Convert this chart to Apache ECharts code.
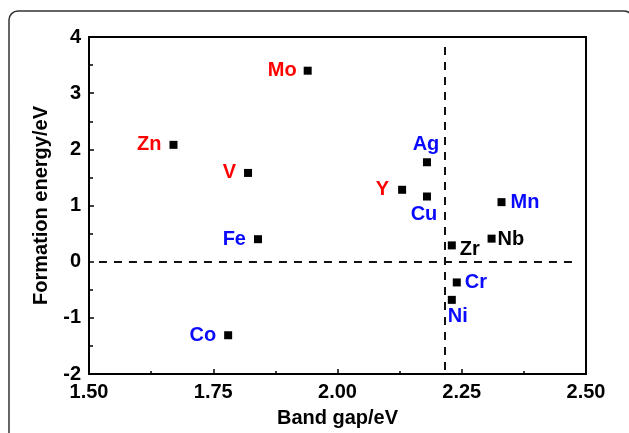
<!DOCTYPE html>
<html>
<head>
<meta charset="utf-8">
<script src="https://cdn.jsdelivr.net/npm/echarts@6/dist/echarts.min.js"></script>
<style>
html,body{margin:0;padding:0;background:#fff;}
#c{width:629px;height:433px;}
</style>
</head>
<body>
<div id="c"></div>
<script>
var names = ['Mo','Zn','V','Fe','Co','Y','Ag','Cu','Mn','Nb','Zr','Cr','Ni'];
var bandGap = [1.94,1.67,1.82,1.84,1.78,2.13,2.18,2.18,2.33,2.31,2.23,2.24,2.23];
var formation = [3.40,2.08,1.58,0.40,-1.31,1.28,1.77,1.16,1.06,0.41,0.29,-0.37,-0.68];
var colorGroup = ['red','red','red','blue','blue','red','blue','blue','blue','black','black','blue','blue'];
var xTicks = ['1.50','1.75','2.00','2.25','2.50'];
var yTicks = ['-2','-1','0','1','2','3','4'];
var gapThreshold = 2.216;

var colorMap = {red:'#ff0000', blue:'#0a0aff', black:'#000000'};
var labelPlace = {
  Mo:{position:'left',distance:7},
  Zn:{position:'left',distance:8},
  V:{position:'left',distance:8},
  Fe:{position:'left',distance:8},
  Co:{position:'left',distance:8},
  Y:{position:'left',distance:9},
  Ag:{position:'top',distance:4,offset:[-1,0]},
  Cu:{position:'bottom',distance:4,offset:[-3,0]},
  Mn:{position:'right',distance:5},
  Nb:{position:'right',distance:2,offset:[0,1]},
  Zr:{position:'right',distance:4,offset:[0,4]},
  Cr:{position:'right',distance:4},
  Ni:{position:'bottom',distance:3,offset:[6,0]}
};
var font = 'Liberation Sans, Arial, sans-serif';

var data = names.map(function(n,i){
  var lp = labelPlace[n];
  return {
    value:[bandGap[i], formation[i]],
    name:n,
    label:{
      show:true,
      formatter:n,
      position:lp.position,
      distance:lp.distance,
      offset:lp.offset || [0,0],
      color:colorMap[colorGroup[i]],
      opacity:1,
      fontSize:20,
      fontWeight:'bold',
      fontFamily:font
    }
  };
});

var chart = echarts.init(document.getElementById('c'), null, {renderer:'canvas'});
chart.setOption({
  animation:false,
  backgroundColor:'#fff',
  graphic:[{
    type:'rect',
    shape:{x:9,y:11,width:624,height:460,r:9},
    style:{fill:'none',stroke:'#333',lineWidth:1.5},
    silent:true,
    z:-1
  }],
  grid:{left:89,right:43,top:37,bottom:56,show:true,borderColor:'#000',borderWidth:2,backgroundColor:'transparent'},
  xAxis:{
    type:'value',min:1.5,max:2.5,interval:0.25,
    name:'Band gap/eV',nameLocation:'middle',nameGap:34,
    nameTextStyle:{fontSize:20,fontWeight:'bold',color:'#000',fontFamily:font},
    axisLine:{show:true,onZero:false,lineStyle:{color:'#000',width:2}},
    axisTick:{show:true,inside:true,length:5,lineStyle:{color:'#000',width:1.5}},
    minorTick:{show:true,splitNumber:2,length:3,lineStyle:{color:'#000',width:1.5}},
    splitLine:{show:false},
    axisLabel:{margin:8,fontSize:20,fontWeight:'bold',color:'#000',fontFamily:font,
      formatter:function(v){var i=Math.round((v-1.5)/0.25);return xTicks[i]!==undefined?xTicks[i]:'';}}
  },
  yAxis:{
    type:'value',min:-2,max:4,interval:1,
    name:'Formation energy/eV',nameLocation:'middle',nameGap:38,
    nameTextStyle:{fontSize:20,fontWeight:'bold',color:'#000',fontFamily:font},
    axisLine:{show:true,onZero:false,lineStyle:{color:'#000',width:2}},
    axisTick:{show:true,inside:true,length:5,lineStyle:{color:'#000',width:1.5}},
    minorTick:{show:true,splitNumber:2,length:4,lineStyle:{color:'#000',width:1.5}},
    splitLine:{show:false},
    axisLabel:{margin:8,fontSize:20,fontWeight:'bold',color:'#000',fontFamily:font,
      formatter:function(v){var i=Math.round(v+2);return yTicks[i]!==undefined?yTicks[i]:'';}}
  },
  series:[{
    type:'scatter',
    symbol:'rect',
    symbolSize:8,
    itemStyle:{color:'#000',opacity:1},
    data:data,
    markLine:{
      silent:true,
      symbol:['none','none'],
      label:{show:false},
      lineStyle:{color:'#111',width:2,type:[8,7],opacity:1},
      data:[
        [{coord:[1.52,0]},{coord:[2.48,0]}],
        [{coord:[gapThreshold,3.82]},{coord:[gapThreshold,-2]}]
      ]
    }
  }]
});
</script>
</body>
</html>
